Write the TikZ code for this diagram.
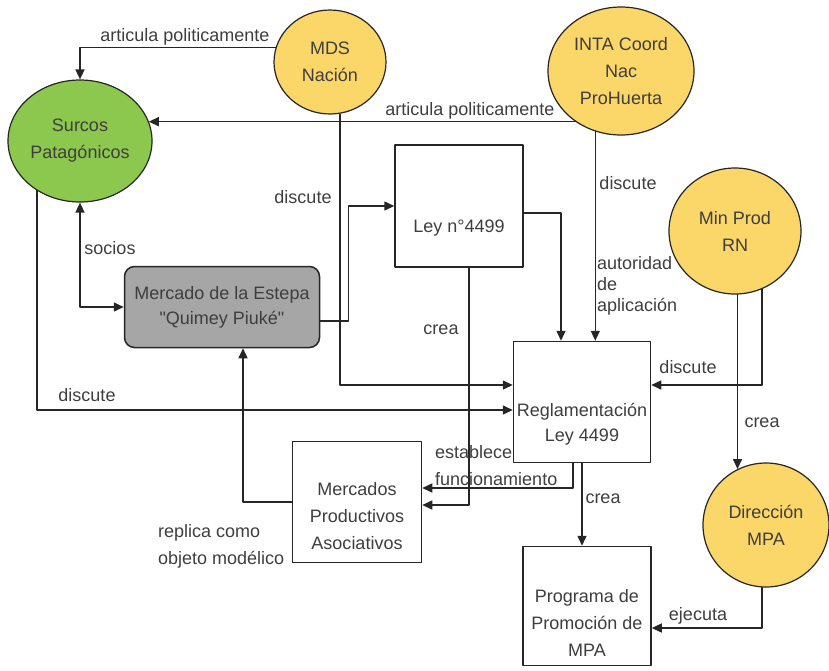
\documentclass[tikz,border=0pt]{standalone}
\usepackage{fontspec}
\setmainfont{Liberation Sans}[Ligatures=TeXOff]
\usepackage{tikz}
\usetikzlibrary{arrows.meta}
\usetikzlibrary{shapes.geometric}
\usetikzlibrary{calc}
\definecolor{ProYellow}{RGB}{251,214,104}
\definecolor{SurcosGreen}{RGB}{140,200,78}
\definecolor{EstepaGray}{RGB}{166,166,166}
\definecolor{TextGray}{RGB}{62,62,62}
\definecolor{LineGray}{RGB}{38,38,38}

\begin{document}
\begin{tikzpicture}[line cap=round,line join=round,>={Triangle[length=10pt,width=9pt]},x=1pt,y=-1pt,
  actor/.style={ellipse,draw=LineGray,line width=1.2pt,fill=ProYellow,inner sep=0pt,align=center,text=TextGray,font=\fontsize{18}{27}\selectfont},
  box/.style={rectangle,draw=LineGray,line width=1.5pt,fill=white,inner sep=0pt},
  txt/.style={align=center,text=TextGray,inner sep=0pt,font=\fontsize{18}{27}\selectfont},
  lbl/.style={text=TextGray,inner sep=0pt,font=\fontsize{18}{27}\selectfont},
  link/.style={->,draw=LineGray,line width=1.5pt}]
\useasboundingbox (0,0) rectangle (829,670);
% actors
\node[actor,fill=SurcosGreen,minimum width=144pt,minimum height=122pt] (surcos) at (80,141) {Surcos\\Patagónicos};
\node[actor,minimum width=112pt,minimum height=104pt] (mds) at (330,62) {MDS\\Nación};
\node[actor,minimum width=146pt,minimum height=128pt] (inta) at (621,71) {INTA Coord\\Nac\\ProHuerta};
\node[actor,minimum width=132pt,minimum height=126pt] (minprod) at (735,231) {Min Prod\\RN};
\node[actor,minimum width=126pt,minimum height=124pt] (direccion) at (766,525) {Dirección\\MPA};
% boxes
\node[box,rounded corners=10pt,fill=EstepaGray,minimum width=195pt,minimum height=81pt,align=center,text=TextGray,font=\fontsize{18}{25}\selectfont] (mercado) at (222,307) {Mercado de la Estepa\\"Quimey Piuké"};
\node[box,minimum width=128pt,minimum height=122pt] (ley) at (459,206) {};
\node[box,minimum width=137pt,minimum height=121pt] (regl) at (582,402) {};
\node[box,minimum width=129pt,minimum height=121pt] (mpa) at (357,502) {};
\node[box,minimum width=128pt,minimum height=119pt] (programa) at (587,606) {};
\node[txt] (ley-txt) at (459,228) {Ley n°4499};
\node[txt,font=\fontsize{18}{25}\selectfont] (regl-txt) at (582,424) {Reglamentación\\Ley 4499};
\node[txt] (mpa-txt) at (357,516) {Mercados\\Productivos\\Asociativos};
\node[txt] (programa-txt) at (587,623) {Programa de\\Promoción de\\MPA};
% connectors
\draw[link] (mds.165) -| (surcos.north);
\draw[link] (inta.228) -- (inta.228 -| surcos.16);
\draw[link] ([xshift=10pt]mds.south) |- ([yshift=17pt]regl.west);
\draw[link] (surcos.229) |- ([yshift=-8pt]regl.west);
\draw[link,<->] (surcos.south) |- (mercado.west);
\draw[link] ([yshift=-14pt]mercado.east) -- ++(28,0) |- (ley.west);
\draw[link] ([yshift=-7pt]ley.east) -| ([xshift=-21pt]regl.north);
\draw[link] (inta.247) -- (inta.247 |- regl.north);
\draw[link] (minprod.295) |- ([yshift=17pt]regl.east);
\draw[link] (direccion.117 |- minprod.south) -- (direccion.117);
\draw[link] ([xshift=10pt]ley.south) |- ([yshift=-3pt]mpa.east);
\draw[link] ([xshift=-9pt]regl.south) |- ([yshift=14pt]mpa.east);
\draw[link] (regl.south) -- (regl.south |- programa.north);
\draw[link] ([xshift=-4pt]direccion.south) |- ([yshift=-22pt]programa.east);
\draw[link] (mpa.west) -| ([xshift=21pt]mercado.south);
% labels
\node[lbl] (l-art1) at (185,37) {articula politicamente};
\node[lbl] (l-art2) at (470,111) {articula politicamente};
\node[lbl] (l-disc1) at (303,197) {discute};
\node[lbl] (l-socios) at (110,248) {socios};
\node[lbl] (l-disc2) at (87,395) {discute};
\node[lbl] (l-crea1) at (441,330) {crea};
\node[lbl] (l-disc3) at (628,183) {discute};
\node[lbl,anchor=west,align=left,font=\fontsize{18}{21}\selectfont] (l-aut) at (597,286) {autoridad\\ de\\ aplicación};
\node[lbl] (l-disc4) at (688,367) {discute};
\node[lbl] (l-crea2) at (762,423) {crea};
\node[lbl,anchor=west,align=left] (l-est) at (435,466) {establece\\funcionamiento};
\node[lbl] (l-crea3) at (603,499) {crea};
\node[lbl] (l-ejec) at (698,616) {ejecuta};
\node[lbl,anchor=west,align=left] (l-repl) at (158,546) {replica como\\objeto modélico};
\end{tikzpicture}
\end{document}
